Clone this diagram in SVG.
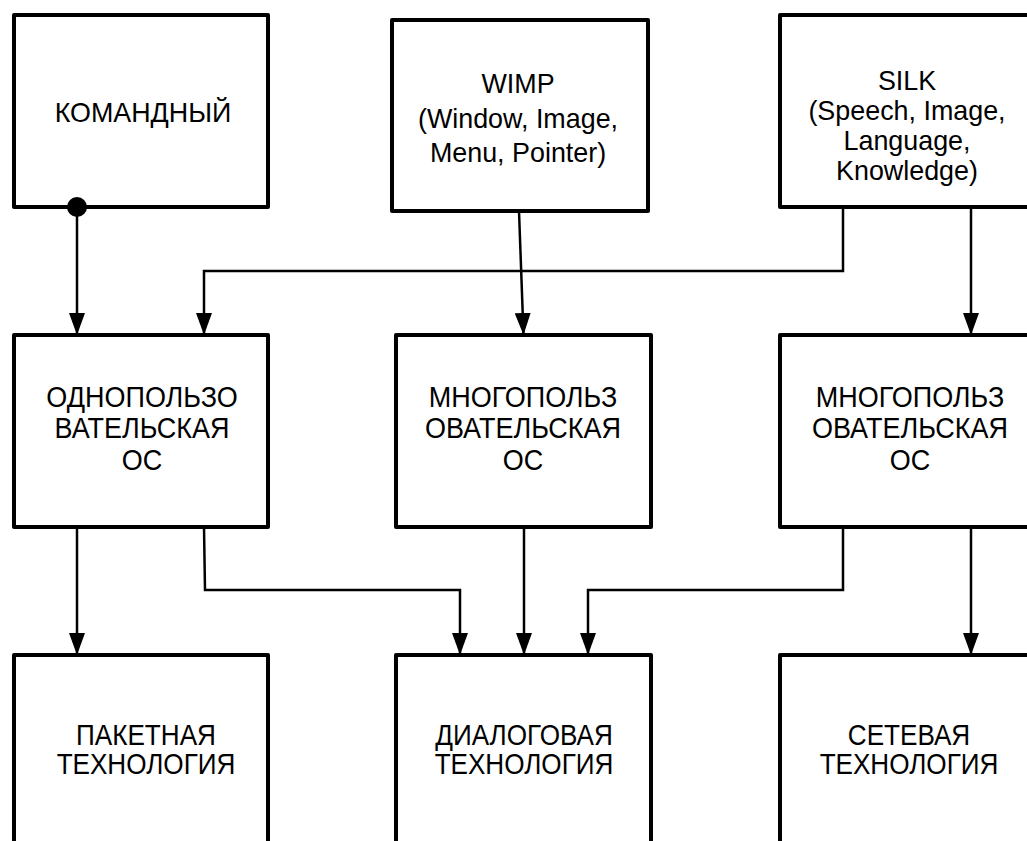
<svg xmlns="http://www.w3.org/2000/svg" width="1027" height="841" viewBox="0 0 1027 841">
<style>
.box{fill:#fff;stroke:#000;stroke-width:4;stroke-linejoin:round}
.lbl{font-family:"Liberation Sans",Arial,sans-serif;fill:#000;text-anchor:middle}
.t{font-size:28px}
.m{font-size:30px}
.con{fill:none;stroke:#000;stroke-width:2.5;marker-end:url(#arr)}
</style>
<defs>
<marker id="arr" viewBox="0 0 22 16" refX="22" refY="8" markerWidth="22" markerHeight="16" markerUnits="userSpaceOnUse" orient="auto">
<path d="M0,0 L22,8 L0,16 z" fill="#000"/>
</marker>
</defs>
<rect width="1027" height="841" fill="#fff"/>
<g id="n1"><rect class="box" x="14" y="15" width="254" height="192"/><g transform="translate(143,0) scale(0.96,1)"><text class="lbl t" x="0" y="122">КОМАНДНЫЙ</text></g></g>
<g id="n2"><rect class="box" x="392" y="20" width="256" height="191"/><g transform="translate(518,0) scale(0.96,1)"><text class="lbl t" x="0" y="93">WIMP</text><text class="lbl t" x="0" y="128">(Window, Image,</text><text class="lbl t" x="0" y="162">Menu, Pointer)</text></g></g>
<g id="n3"><rect class="box" x="780" y="15" width="256" height="192"/><g transform="translate(907,0) scale(0.96,1)"><text class="lbl t" x="0" y="90">SILK</text><text class="lbl t" x="0" y="120">(Speech, Image,</text><text class="lbl t" x="0" y="150">Language,</text><text class="lbl t" x="0" y="180">Knowledge)</text></g></g>
<g id="n4"><rect class="box" x="14" y="335" width="254" height="192"/><g transform="translate(142,0) scale(0.9,1)"><text class="lbl m" x="0" y="407">ОДНОПОЛЬЗО</text><text class="lbl m" x="0" y="438">ВАТЕЛЬСКАЯ</text><text class="lbl m" x="0" y="470">ОС</text></g></g>
<g id="n5"><rect class="box" x="396" y="335" width="255" height="192"/><g transform="translate(523,0) scale(0.9,1)"><text class="lbl m" x="0" y="407">МНОГОПОЛЬЗ</text><text class="lbl m" x="0" y="438">ОВАТЕЛЬСКАЯ</text><text class="lbl m" x="0" y="470">ОС</text></g></g>
<g id="n6"><rect class="box" x="780" y="335" width="256" height="192"/><g transform="translate(910,0) scale(0.9,1)"><text class="lbl m" x="0" y="407">МНОГОПОЛЬЗ</text><text class="lbl m" x="0" y="438">ОВАТЕЛЬСКАЯ</text><text class="lbl m" x="0" y="470">ОС</text></g></g>
<g id="n7"><rect class="box" x="14" y="655" width="254" height="200"/><g transform="translate(146,0) scale(0.87,1)"><text class="lbl m" x="0" y="745">ПАКЕТНАЯ</text><text class="lbl m" x="0" y="774">ТЕХНОЛОГИЯ</text></g></g>
<g id="n8"><rect class="box" x="396" y="655" width="255" height="200"/><g transform="translate(524,0) scale(0.87,1)"><text class="lbl m" x="0" y="745">ДИАЛОГОВАЯ</text><text class="lbl m" x="0" y="774">ТЕХНОЛОГИЯ</text></g></g>
<g id="n9"><rect class="box" x="780" y="655" width="256" height="200"/><g transform="translate(909,0) scale(0.87,1)"><text class="lbl m" x="0" y="745">СЕТЕВАЯ</text><text class="lbl m" x="0" y="774">ТЕХНОЛОГИЯ</text></g></g>
<g id="connectors">
<circle cx="77" cy="207" r="10" fill="#000"/>
<path class="con" d="M77,207 L77,335"/>
<path class="con" d="M519,211 L523.5,335"/>
<path class="con" d="M843,207 L843,271 L204,271 L204,335"/>
<path class="con" d="M971,207 L971,335"/>
<path class="con" d="M77,527 L77,655"/>
<path class="con" d="M204,527 L205,590 L460,590 L460,655"/>
<path class="con" d="M524,527 L524,655"/>
<path class="con" d="M843,527 L843,590 L588,590 L588,655"/>
<path class="con" d="M971,527 L971,655"/>
</g>
</svg>
